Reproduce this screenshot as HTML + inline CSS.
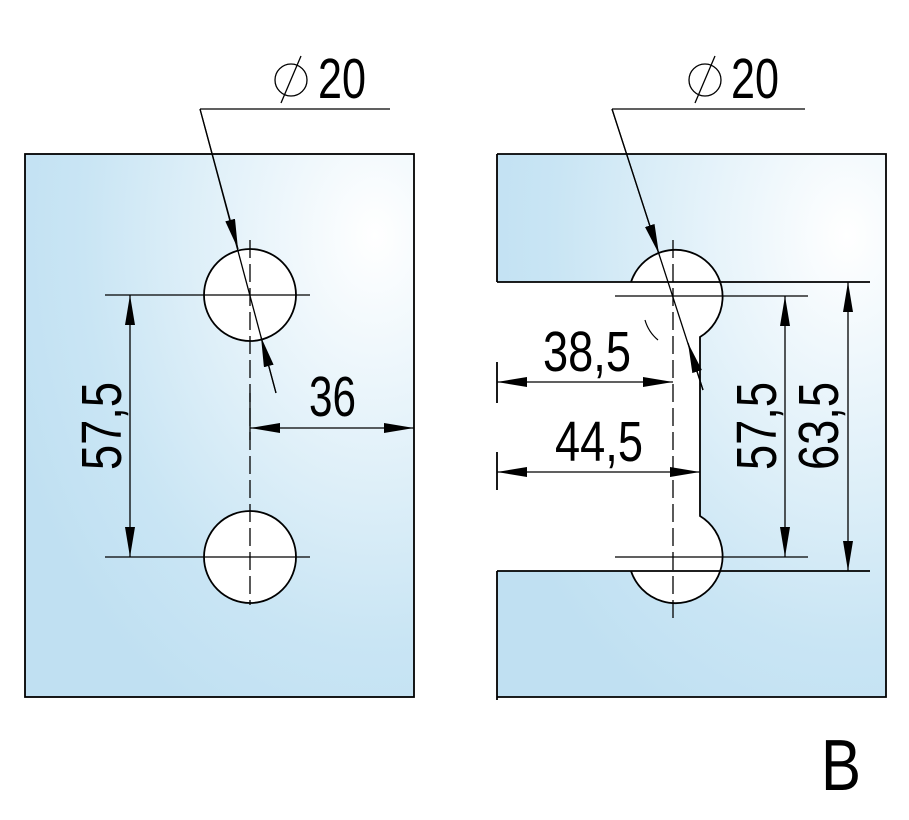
<!DOCTYPE html>
<html><head><style>html,body{margin:0;padding:0;background:#fff}svg{display:block}</style></head><body>
<svg width="909" height="820" viewBox="0 0 909 820" xmlns="http://www.w3.org/2000/svg" font-family="Liberation Sans, sans-serif">
<defs>
<radialGradient id="g1" cx="0.9" cy="0.15" r="1.0">
<stop offset="0" stop-color="#ffffff"/><stop offset="0.35" stop-color="#e6f3fa"/><stop offset="0.75" stop-color="#c9e5f4"/><stop offset="1" stop-color="#c0e0f2"/></radialGradient>
<marker id="a" viewBox="0 0 30 10" refX="30" refY="5" markerWidth="30" markerHeight="10" markerUnits="userSpaceOnUse" orient="auto-start-reverse"><path d="M0,0 L30,5 L0,10z" fill="#000"/></marker>
</defs>
<g stroke="#000" stroke-width="1.8" fill="none">
<rect x="25" y="154" width="389" height="543" fill="url(#g1)"/>
<circle cx="250" cy="295" r="46" fill="#fff"/>
<circle cx="250" cy="557" r="46" fill="#fff"/>
<path d="M497,154 H886 V697 H497 Z" fill="url(#g1)" stroke="none"/>
<path d="M497,154 H886 V697 H497 M497,154 V282 M497,571 V700"/>
<path d="M497,282 L631,282 A47,47 0 1 1 700,337 L700,516 A47,47 0 1 1 631,571 L497,571 Z" fill="#fff" stroke="none"/>
<path d="M631,282 A47,47 0 1 1 700,337 L700,516 A47,47 0 1 1 631,571"/>
<path d="M497,282 L870,282 M497,571 L870,571" />
<path d="M497,362 V403 M497,452 V490"/>
<path d="M645,320 A40,40 0 0 0 658,340" stroke-width="1.2"/>
</g>
<g stroke="#000" stroke-width="1.3" fill="none">
<path d="M250,240 V605" stroke-dasharray="18,6"/>
<path d="M250,393 V440"/>
<path d="M105,295 H310 M105,557 H310" />
<path d="M130,295 V557" marker-start="url(#a)" marker-end="url(#a)"/>
<path d="M250,428 H414" marker-start="url(#a)" marker-end="url(#a)"/>
<path d="M200,109 H390"/>
<path d="M200,109 L276,393"/>
<path d="M200,109 L238,249" marker-end="url(#a)"/>
<path d="M276,393 L261,337" marker-end="url(#a)"/>
<path d="M673,240 V620" stroke-dasharray="18,6"/>
<path d="M615,296 H808 M615,557 H808"/>
<path d="M785,296 V557" marker-start="url(#a)" marker-end="url(#a)"/>
<path d="M848,282 V571" marker-start="url(#a)" marker-end="url(#a)"/>
<path d="M497,382 H673" marker-start="url(#a)" marker-end="url(#a)"/>
<path d="M497,472 H700" marker-start="url(#a)" marker-end="url(#a)"/>
<path d="M612,109 H805"/>
<path d="M612,109 L703,390"/>
<path d="M612,109 L659,254" marker-end="url(#a)"/>
<path d="M703,390 L688,343" marker-end="url(#a)"/>
<circle cx="291" cy="80" r="16"/><path d="M281,103 L301,56"/>
<circle cx="705" cy="80" r="16"/><path d="M695,103 L715,56"/>
</g>
<g font-size="57" fill="#000">
<text x="318" y="98" textLength="48" lengthAdjust="spacingAndGlyphs">20</text>
<text x="731" y="98" textLength="48" lengthAdjust="spacingAndGlyphs">20</text>
<text x="309" y="416" textLength="47" lengthAdjust="spacingAndGlyphs">36</text>
<text x="543" y="371" textLength="88" lengthAdjust="spacingAndGlyphs">38,5</text>
<text x="555" y="461" textLength="88" lengthAdjust="spacingAndGlyphs">44,5</text>
<text transform="translate(121,470) rotate(-90)" textLength="88" lengthAdjust="spacingAndGlyphs">57,5</text>
<text transform="translate(776,470) rotate(-90)" textLength="88" lengthAdjust="spacingAndGlyphs">57,5</text>
<text transform="translate(838,470) rotate(-90)" textLength="88" lengthAdjust="spacingAndGlyphs">63,5</text>
<text x="821" y="790" font-size="72" textLength="40" lengthAdjust="spacingAndGlyphs">B</text>
</g>
</svg>
</body></html>
